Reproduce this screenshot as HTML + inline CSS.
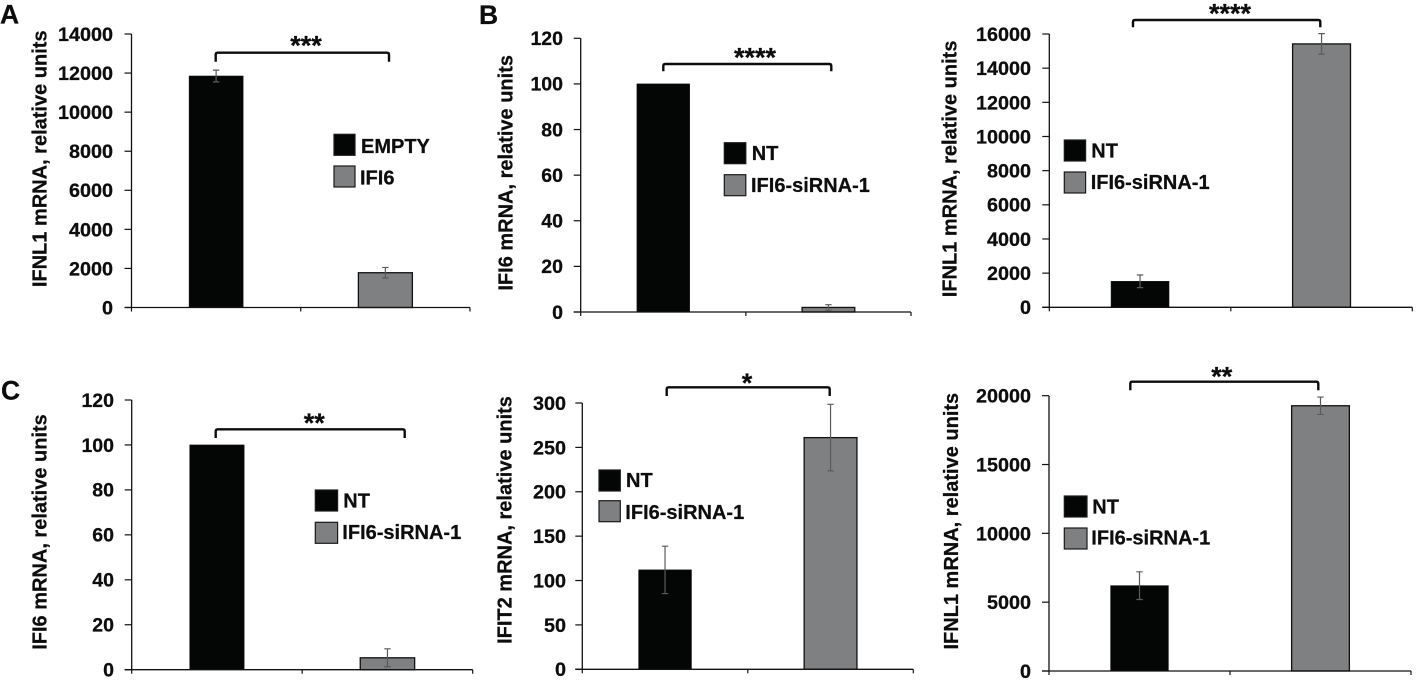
<!DOCTYPE html>
<html lang="en">
<head>
<meta charset="utf-8">
<title>IFI6 knockdown and IFN mRNA bar charts</title>
<style>
html,body{margin:0;padding:0;background:#fff;}
svg{display:block;}
text{font-family:"Liberation Sans",Arial,sans-serif;font-weight:700;fill:#0d0d0d;stroke:#0d0d0d;stroke-width:0.25px;}
</style>
</head>
<body>
<svg id="figure" width="1416" height="681" viewBox="0 0 1416 681" xmlns="http://www.w3.org/2000/svg"></svg>
<script>
// ---- data ----
const panelAValues = [11850, 1780];
const panelAErrors = [300, 270];
const panelATicks = [0, 2000, 4000, 6000, 8000, 10000, 12000, 14000];
const panelALegend = ['EMPTY', 'IFI6'];

const panelB1Values = [100, 2];
const panelB1Errors = [0, 1.2];
const panelB1Ticks = [0, 20, 40, 60, 80, 100, 120];
const panelB1Legend = ['NT', 'IFI6-siRNA-1'];

const panelB2Values = [1520, 15420];
const panelB2Errors = [370, 600];
const panelB2Ticks = [0, 2000, 4000, 6000, 8000, 10000, 12000, 14000, 16000];
const panelB2Legend = ['NT', 'IFI6-siRNA-1'];

const panelC1Values = [100, 5.3];
const panelC1Errors = [0, 4];
const panelC1Ticks = [0, 20, 40, 60, 80, 100, 120];
const panelC1Legend = ['NT', 'IFI6-siRNA-1'];

const panelC2Values = [112, 261];
const panelC2Errors = [26.7, 37.5];
const panelC2Ticks = [0, 50, 100, 150, 200, 250, 300];
const panelC2Legend = ['NT', 'IFI6-siRNA-1'];

const panelC3Values = [6200, 19270];
const panelC3Errors = [1005, 630];
const panelC3Ticks = [0, 5000, 10000, 15000, 20000];
const panelC3Legend = ['NT', 'IFI6-siRNA-1'];

const panelLetters = ['A', 'B', 'C'];

// ---- layout (geometry only) ----
const charts = [
  {id:'a', values:panelAValues, errors:panelAErrors, ticks:panelATicks, legend:panelALegend,
   title:'IFNL1 mRNA, relative units', stars:'***',
   x0:131.5, x1:470, top:34, base:307.5, tickRight:113, tickFont:19.8,
   labelX:46.7, labelY:158.8,
   swatchX:334, swatchW:21, swatchH:21, swatchY:[134.3,166], textX:[361,360], textY:[153,184.3],
   br:[215.7,389,52.7,61.7], starX:306, starTop:35},
  {id:'b1', values:panelB1Values, errors:panelB1Errors, ticks:panelB1Ticks, legend:panelB1Legend,
   title:'IFI6 mRNA, relative units', stars:'****',
   x0:580.7, x1:911, top:38.3, base:312, tickRight:563, tickFont:19.5,
   labelX:512.7, labelY:172.8,
   swatchX:724.3, swatchW:21.5, swatchH:21, swatchY:[142.7,174.7], textX:[751.7,751], textY:[160,192],
   br:[663.3,831.3,64,71.3], starX:755, starTop:47},
  {id:'b2', values:panelB2Values, errors:panelB2Errors, ticks:panelB2Ticks, legend:panelB2Legend,
   title:'IFNL1 mRNA, relative units', stars:'****',
   x0:1049.3, x1:1412.3, top:34, base:307.3, tickRight:1031, tickFont:19.8,
   labelX:956.7, labelY:168.9,
   swatchX:1064.3, swatchW:21.3, swatchH:21, swatchY:[140,172], textX:[1091.3,1090.7], textY:[157.3,189],
   br:[1133,1320.3,20,27.3], starX:1230, starTop:3},
  {id:'c1', values:panelC1Values, errors:panelC1Errors, ticks:panelC1Ticks, legend:panelC1Legend,
   title:'IFI6 mRNA, relative units', stars:'**',
   x0:131.7, x1:472.7, top:400, base:669.7, tickRight:114, tickFont:19.5,
   labelX:46.7, labelY:532,
   swatchX:315.3, swatchW:22.3, swatchH:21, swatchY:[490,522.3], textX:[343.3,342.3], textY:[507.3,539],
   br:[215.7,404.7,429.3,438], starX:314.3, starTop:412.3},
  {id:'c2', values:panelC2Values, errors:panelC2Errors, ticks:panelC2Ticks, legend:panelC2Legend,
   title:'IFIT2 mRNA, relative units', stars:'*',
   x0:582.3, x1:913.3, top:403, base:669.3, tickRight:566, tickFont:19.8,
   labelX:511.3, labelY:520,
   swatchX:599, swatchW:21.3, swatchH:21, swatchY:[470,500.7], textX:[626,625.3], textY:[487,519],
   br:[666.7,829.7,387.3,396], starX:747, starTop:372.7},
  {id:'c3', values:panelC3Values, errors:panelC3Errors, ticks:panelC3Ticks, legend:panelC3Legend,
   title:'IFNL1 mRNA, relative units', stars:'**',
   x0:1049, x1:1411, top:395.7, base:671, tickRight:1031, tickFont:19.8,
   labelX:958, labelY:521.2,
   swatchX:1064.3, swatchW:22.7, swatchH:21, swatchY:[496,528], textX:[1092.3,1091.3], textY:[513.3,544.7],
   br:[1130.3,1318.3,381.7,390.3], starX:1221.7, starTop:366}
];
const letterPos = [[0,23.5],[479,24],[1,399.5]];
const barColors = ['#040606', '#7f8082'];
const barRatio = 0.319;

const NS = 'http://www.w3.org/2000/svg';
const root = document.getElementById('figure');

function make(tag, parent, props, content) {
  const node = document.createElementNS(NS, tag);
  for (const k in props) node.setAttribute(k, props[k]);
  if (content !== undefined) node.textContent = content;
  parent.appendChild(node);
  return node;
}

panelLetters.forEach(function (letter, i) {
  const el = make('text', root, {x:letterPos[i][0], y:letterPos[i][1], 'font-size':26.5}, letter);
  
  
});

charts.forEach(function (c) {
  const maxTick = c.ticks[c.ticks.length - 1];
  const yScale = function (v) { return c.base - v / maxTick * (c.base - c.top); };
  const bandW = (c.x1 - c.x0) / c.values.length;
  const xScale = function (i) { return c.x0 + bandW * (i + 0.5); };
  const barW = bandW * barRatio;

  const g = make('g', root, {});
  
  

  // bars
  c.values.forEach(function (v, i) {
    const bar = make('rect', g, {
      x: xScale(i) - barW / 2, y: yScale(v), width: barW, height: c.base - yScale(v),
      fill: barColors[i], stroke: '#111', 'stroke-width': i === 0 ? 0.6 : 1.3
    });
    
    
  });

  // error bars
  c.errors.forEach(function (e, i) {
    if (!e) return;
    const cx = xScale(i);
    const hi = yScale(c.values[i] + e);
    const lo = yScale(c.values[i] - e);
    const err = make('path', g, {
      d: 'M' + (cx - 3.2) + ' ' + hi + 'H' + (cx + 3.2) + 'M' + cx + ' ' + hi + 'V' + lo + 'M' + (cx - 3.2) + ' ' + lo + 'H' + (cx + 3.2),
      fill: 'none', stroke: '#5a5a5a', 'stroke-width': 1.2
    });
    
    
  });

  // y axis line + x axis line
  const yAxis = make('line', g, {x1:c.x0, x2:c.x0, y1:c.top, y2:c.base, stroke:'#111', 'stroke-width':1.3});
  
  
  const xAxis = make('line', g, {x1:c.x0 - 7, x2:c.x1, y1:c.base, y2:c.base, stroke:'#111', 'stroke-width':1.3});
  
  

  // x tick marks at band edges
  for (let i = 0; i <= c.values.length; i++) {
    const tx = c.x0 + bandW * i;
    const xt = make('line', g, {x1:tx, x2:tx, y1:c.base, y2:c.base + 4, stroke:'#111', 'stroke-width':1.2});
    
    
  }

  // y ticks and labels
  c.ticks.forEach(function (t) {
    const ty = yScale(t);
    const tm = make('line', g, {x1:c.x0 - 7, x2:c.x0, y1:ty, y2:ty, stroke:'#111', 'stroke-width':1.2});
    
    
    const tl = make('text', g, {x:c.tickRight, y:ty + c.tickFont * 0.35, 'font-size':c.tickFont, 'text-anchor':'end'}, String(t));
    
    
  });

  // y axis title
  const title = make('text', g, {
    x:c.labelX, y:c.labelY, 'font-size':20, 'text-anchor':'middle',
    transform:'rotate(-90 ' + c.labelX + ' ' + c.labelY + ')'
  }, c.title);
  
  

  // legend
  c.legend.forEach(function (name, i) {
    const sw = make('rect', g, {
      x:c.swatchX, y:c.swatchY[i], width:c.swatchW, height:c.swatchH,
      fill:barColors[i], stroke:'#1a1a1a', 'stroke-width':1.2
    });
    
    
    const lt = make('text', g, {x:c.textX[i], y:c.textY[i], 'font-size':20}, name);
    
    
  });

  // significance bracket
  const b = c.br;
  const bracket = make('path', g, {
    d:'M' + b[0] + ' ' + b[3] + 'V' + (b[2] + 2) + 'Q' + b[0] + ' ' + b[2] + ' ' + (b[0] + 2) + ' ' + b[2] +
      'H' + (b[1] - 2) + 'Q' + b[1] + ' ' + b[2] + ' ' + b[1] + ' ' + (b[2] + 2) + 'V' + b[3],
    fill:'none', stroke:'#0d0d0d', 'stroke-width':2.4
  });
  
  

  const stars = make('text', g, {x:c.starX, y:c.starTop + 19.5, 'font-size':27, 'text-anchor':'middle'}, c.stars);
  
  
});
</script>
</body>
</html>
